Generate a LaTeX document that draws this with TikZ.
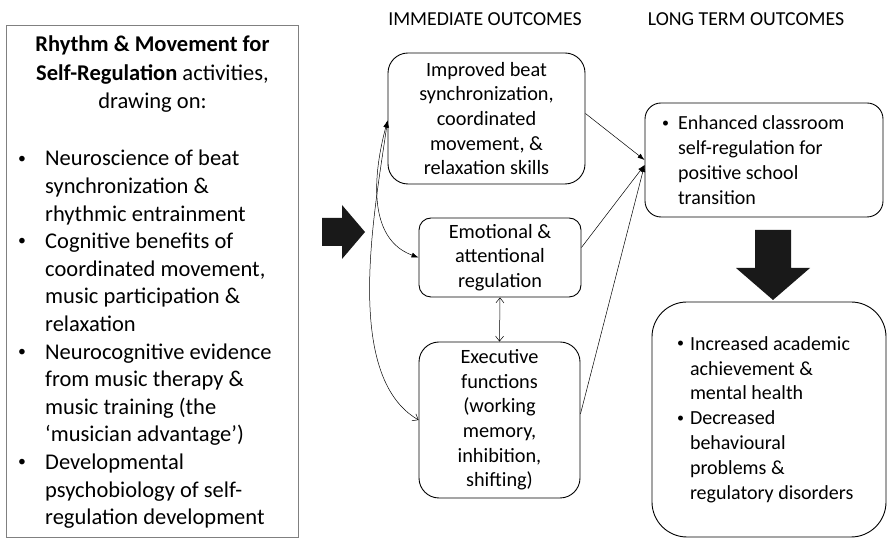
\documentclass[tikz,border=0pt]{standalone}
\usepackage{fontspec}
\usepackage{graphicx}
\setmainfont{Carlito}
\usetikzlibrary{arrows.meta,positioning}

% small bullet with a fixed hanging indent
\newcommand{\blt}[1]{\makebox[#1][l]{\raisebox{0.12em}{\scalebox{0.7}{\textbullet}}}}

\begin{document}
\begin{tikzpicture}[x=1pt,y=1pt,
  every node/.style={inner sep=0pt},
  srcbox/.style={draw=black!50, line width=0.9pt, minimum width=292pt, minimum height=512pt},
  srctext/.style={font=\fontsize{22.5}{27.6}\selectfont},
  colhead/.style={font=\fontsize{19.8}{22}\selectfont},
  outcome/.style={draw, line width=0.9pt, align=center, font=\fontsize{20.3}{24.6}\selectfont},
  longterm/.style={draw, line width=0.9pt, align=flush left, font=\fontsize{20}{24.8}\selectfont},
  link/.style={line width=0.5pt, -{Latex[length=7pt,width=5pt]}},
  twoway/.style={line width=0.5pt, {Latex[length=7pt,width=5pt]}-{Latex[length=7pt,width=5pt]}},
  openway/.style={line width=0.5pt, {Straight Barb[length=5pt,width=8pt]}-{Straight Barb[length=5pt,width=8pt]}},
  blockarrow/.style={fill=black!90}
]
\useasboundingbox (0,0) rectangle (888,540);

% activities
\node[srcbox] (src) at (152,259) {};
\node[srctext, align=center, anchor=north, font=\fontsize{22.5}{28.5}\selectfont] (srctitle) at (152.5,504)
  {\textbf{Rhythm \& Movement for}\\\textbf{Self-Regulation} activities,\\drawing on:};
\node[srctext, align=flush left, anchor=north west] (srclist) at (18,390)
  {\blt{27pt}Neuroscience of beat\\\hspace*{27pt}synchronization \&\\\hspace*{27pt}rhythmic entrainment\\
   \blt{27pt}Cognitive benefits of\\\hspace*{27pt}coordinated movement,\\\hspace*{27pt}music participation \&\\\hspace*{27pt}relaxation\\
   \blt{27pt}Neurocognitive evidence\\\hspace*{27pt}from music therapy \&\\\hspace*{27pt}music training (the\\\hspace*{27pt}‘musician advantage’)\\
   \blt{27pt}Developmental\\\hspace*{27pt}psychobiology of self-\\\hspace*{27pt}regulation development};

\fill[blockarrow] (322,294) -- (342,294) -- (342,281) -- (365,308) -- (342,335) -- (342,322) -- (322,322) -- cycle;

% immediate outcomes
\node[colhead] (immhead) at (485,521) {IMMEDIATE OUTCOMES};
\node[outcome, rounded corners=20pt, minimum width=197pt, minimum height=131pt] (imm1) at (486.5,421.5)
  {Improved beat\\synchronization,\\coordinated\\movement, \&\\relaxation skills};
\node[outcome, rounded corners=12pt, minimum width=162pt, minimum height=79pt] (imm2) at (500,282.5)
  {Emotional \&\\attentional\\regulation};
\node[outcome, rounded corners=20pt, minimum width=161pt, minimum height=156pt] (imm3) at (499.5,120)
  {Executive\\functions\\(working\\memory,\\inhibition,\\shifting)};

% long term outcomes
\node[colhead] (longhead) at (746,521) {LONG TERM OUTCOMES};
\node[longterm, rounded corners=16pt, minimum height=114pt, text width=204pt, inner xsep=17pt] (long1) at (764,380)
  {\blt{16pt}Enhanced classroom\\\hspace*{16pt}self-regulation for\\\hspace*{16pt}positive school\\\hspace*{16pt}transition};
\node[longterm, rounded corners=35pt, minimum height=235pt, text width=184pt, inner xsep=25pt] (long2) at (769,120.5)
  {\blt{13pt}Increased academic\\\hspace*{13pt}achievement \&\\\hspace*{13pt}mental health\\
   \blt{13pt}Decreased\\\hspace*{13pt}behavioural\\\hspace*{13pt}problems \&\\\hspace*{13pt}regulatory disorders};

\fill[blockarrow] (755,310) -- (791,310) -- (791,272) -- (810,272) -- (773,240) -- (736,272) -- (755,272) -- cycle;

% links
\draw[twoway] ([yshift=-2pt]imm1.west) to[out=255,in=160] (imm2.west);
\draw[line width=0.5pt, {Latex[length=7pt,width=5pt]}-{Straight Barb[length=5pt,width=8pt]}]
  ([yshift=-2pt]imm1.west) to[out=262,in=150,looseness=0.75] (imm3.west);
\draw[openway] (imm2.south) -- (imm3.north);
\draw[link] ([yshift=5pt]imm1.east) -- (long1.west);
\draw[link] ([yshift=10pt]imm2.east) -- ([yshift=-5pt]long1.west);
\draw[link] ([yshift=6pt]imm3.east) -- ([yshift=-5pt]long1.west);
\end{tikzpicture}
\end{document}
